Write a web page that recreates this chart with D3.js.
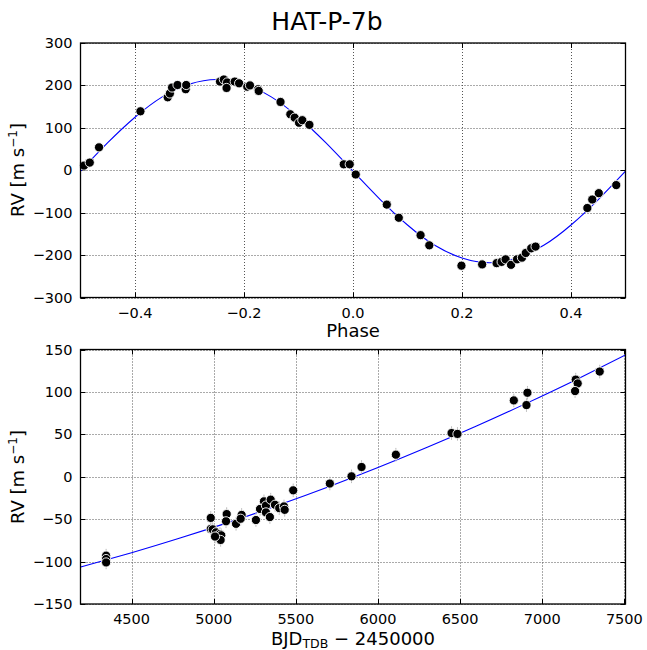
<!DOCTYPE html>
<html><head><meta charset="utf-8">
<script src="https://cdn.jsdelivr.net/npm/d3@7"></script>
<style>body{margin:0;background:#fff}svg{display:block}text{font-family:"DejaVu Sans",sans-serif}</style>
</head><body>
<svg id="c" width="647" height="650"></svg>
<script>
// ---- Data: phase-folded RVs (top panel)
const phase = [-0.4935,-0.483,-0.466,-0.390,-0.340,-0.336,-0.332,-0.322,-0.307,-0.306,-0.244,-0.237,-0.231,-0.232,-0.217,-0.209,-0.194,-0.189,-0.174,-0.173,-0.133,-0.115,-0.107,-0.099,-0.093,-0.080,-0.017,-0.006,0.005,0.062,0.084,0.124,0.140,0.199,0.237,0.2635,0.2727,0.280,0.290,0.301,0.310,0.317,0.327,0.335,0.430,0.439,0.451,0.483];
const rvPhase = [11,18,54,139,172,181,195,201,191,201,209,214,207,194,209,205,197,200,191,187,161,132,124,112,118,107,14,14,-10,-81,-112,-153,-177,-225,-222,-219,-216,-210,-223,-210,-206,-195,-184,-180,-89,-69,-54,-35];
// orbit model
const modelPhase = [-0.50,-0.45,-0.40,-0.35,-0.30,-0.25,-0.20,-0.15,-0.10,-0.05,0.00,0.05,0.10,0.15,0.20,0.25,0.30,0.35,0.40,0.45,0.50];
const modelPhaseRV = [-2,65,125,173,203,214,203,173,125,65,-2,-69,-129,-177,-207,-218,-207,-177,-129,-69,-2];

// ---- Data: residual RVs vs time (bottom panel)
const bjd = [4345,4345,4345,4982,4982,4994,5014,5038,5046,5042,5008,5079,5075,5136,5170,5164,5257,5282,5306,5318,5318,5347,5342,5373,5399,5428,5432,5484,5707,5839,5900,6109,6448,6484,6827,6910,6904,7204,7216,7200,7350];
const rvTime = [-93,-97,-101,-48.5,-61.5,-62,-65.5,-67.5,-69,-74.5,-70.5,-44,-52.5,-55.5,-45,-49.5,-51,-38,-29,-34,-42,-27,-47.5,-33,-37,-35,-39,-16,-8,0.5,11.5,26,51.5,50.5,90,99,84.5,114.5,110,101,124];
const rvErr = [8,8,8,8,8,8,8,8,8,8,8,8,8,8,8,8,8,8,8,8,8,8,8,8,8,8,8,8,8,8,8,8,8,8,8,8,8,8,8,8,8];
const trendT = [4190,4500,4800,5100,5400,5700,6000,6300,6600,6900,7200,7510];
const trendRV = [-106.4,-89.6,-72.0,-53.2,-33.1,-11.8,10.8,34.7,59.8,86.2,113.8,143.8];

// ---- Ticks
const phaseTicks = [-0.4,-0.2,0.0,0.2,0.4];
const rvTicksTop = [-300,-200,-100,0,100,200,300];
const timeTicks = [4500,5000,5500,6000,6500,7000,7500];
const rvTicksBot = [-150,-100,-50,0,50,100,150];

const svg = d3.select("#c");
const L = 80.5, R = 625.5;
const fmtMinus = s => s.replace("-", "\u2212");

function panel(x, y, xt, yt, xfmt, yfmt) {
  const g = svg.append("g");
  const [y0, y1] = y.range();
  // grid
  g.selectAll(".gx").data(xt).join("line")
    .attr("x1", d => Math.round(x(d)) + 0.5).attr("x2", d => Math.round(x(d)) + 0.5)
    .attr("y1", y1).attr("y2", y0)
    .attr("stroke", "#555").attr("stroke-width", 1).attr("stroke-dasharray", "1,2");
  g.selectAll(".gy").data(yt).join("line")
    .attr("y1", d => Math.round(y(d)) + 0.5).attr("y2", d => Math.round(y(d)) + 0.5)
    .attr("x1", L).attr("x2", R)
    .attr("stroke", "#555").attr("stroke-width", 1).attr("stroke-dasharray", "1,2");
  // inward ticks all sides
  const tl = 5;
  g.selectAll(".tb").data(xt).join("line")
    .attr("x1", d => Math.round(x(d)) + 0.5).attr("x2", d => Math.round(x(d)) + 0.5)
    .attr("y1", y0).attr("y2", y0 - tl).attr("stroke", "#000");
  g.selectAll(".tt").data(xt).join("line")
    .attr("x1", d => Math.round(x(d)) + 0.5).attr("x2", d => Math.round(x(d)) + 0.5)
    .attr("y1", y1).attr("y2", y1 + tl).attr("stroke", "#000");
  g.selectAll(".tlf").data(yt).join("line")
    .attr("y1", d => Math.round(y(d)) + 0.5).attr("y2", d => Math.round(y(d)) + 0.5)
    .attr("x1", L).attr("x2", L + tl).attr("stroke", "#000");
  g.selectAll(".trt").data(yt).join("line")
    .attr("y1", d => Math.round(y(d)) + 0.5).attr("y2", d => Math.round(y(d)) + 0.5)
    .attr("x1", R).attr("x2", R - tl).attr("stroke", "#000");
  // tick labels
  g.selectAll(".xl").data(xt).join("text")
    .attr("x", d => x(d)).attr("y", y0 + 20)
    .attr("text-anchor", "middle").attr("font-size", 14.5)
    .text(d => fmtMinus(xfmt(d)));
  g.selectAll(".yl").data(yt).join("text")
    .attr("x", L - 8).attr("y", d => y(d) + 5)
    .attr("text-anchor", "end").attr("font-size", 14.5)
    .text(d => fmtMinus(yfmt(d)));
  return g;
}
function frame(y) {
  const [y0, y1] = y.range();
  svg.append("rect").attr("x", L).attr("y", y1).attr("width", R - L).attr("height", y0 - y1)
    .attr("fill", "none").attr("stroke", "#000").attr("stroke-width", 1.3);
}

// ---- Top panel
const x1 = d3.scaleLinear().domain([-0.5, 0.5]).range([L, R]);
const y1 = d3.scaleLinear().domain([-300, 300]).range([297.5, 43]);
panel(x1, y1, phaseTicks, rvTicksTop, d3.format(".1f"), d3.format("d"));
const clip1 = svg.append("clipPath").attr("id", "cl1").append("rect")
  .attr("x", L).attr("y", 43).attr("width", R - L).attr("height", 297.5 - 43);
svg.append("path")
  .datum(modelPhase.map((p, i) => [p, modelPhaseRV[i]]))
  .attr("clip-path", "url(#cl1)")
  .attr("d", d3.line().x(d => x1(d[0])).y(d => y1(d[1])).curve(d3.curveNatural))
  .attr("fill", "none").attr("stroke", "#0000ff").attr("stroke-width", 1.1);
svg.append("g").selectAll("circle").data(phase.map((p, i) => [p, rvPhase[i]])).join("circle")
  .attr("cx", d => x1(d[0])).attr("cy", d => y1(d[1])).attr("r", 4.6)
  .attr("fill", "#000").attr("stroke", "#fff").attr("stroke-width", 0.9);
frame(y1);

// ---- Bottom panel
const x2 = d3.scaleLinear().domain([4189, 7507]).range([L, R]);
const y2 = d3.scaleLinear().domain([-150, 150]).range([604, 349.5]);
panel(x2, y2, timeTicks, rvTicksBot, d3.format("d"), d3.format("d"));
svg.append("clipPath").attr("id", "cl2").append("rect")
  .attr("x", L).attr("y", 349.5).attr("width", R - L).attr("height", 604 - 349.5);
svg.append("path")
  .datum(trendT.map((t, i) => [t, trendRV[i]]))
  .attr("clip-path", "url(#cl2)")
  .attr("d", d3.line().x(d => x2(d[0])).y(d => y2(d[1])).curve(d3.curveNatural))
  .attr("fill", "none").attr("stroke", "#0000ff").attr("stroke-width", 1.1);
const pts2 = bjd.map((t, i) => [t, rvTime[i], rvErr[i]]);
svg.append("g").selectAll("line").data(pts2).join("line")
  .attr("x1", d => x2(d[0])).attr("x2", d => x2(d[0]))
  .attr("y1", d => y2(d[1] - d[2])).attr("y2", d => y2(d[1] + d[2]))
  .attr("stroke", "#bbb").attr("stroke-width", 1);
svg.append("g").selectAll("circle").data(pts2).join("circle")
  .attr("cx", d => x2(d[0])).attr("cy", d => y2(d[1])).attr("r", 4.6)
  .attr("fill", "#000").attr("stroke", "#fff").attr("stroke-width", 0.9);
frame(y2);

// ---- Labels
svg.append("text").attr("x", 327).attr("y", 30).attr("text-anchor", "middle")
  .attr("font-size", 25).text("HAT-P-7b");
svg.append("text").attr("x", 353).attr("y", 337).attr("text-anchor", "middle")
  .attr("font-size", 18).text("Phase");
function rvLabel(cy) {
  const t = svg.append("text").attr("transform", `translate(24,${cy}) rotate(-90)`)
    .attr("text-anchor", "middle").attr("font-size", 18);
  t.append("tspan").text("RV [m s");
  t.append("tspan").attr("font-size", 12).attr("dy", -7).text("\u22121");
  t.append("tspan").attr("dy", 7).text("]");
}
rvLabel(170);
rvLabel(477);
const bl = svg.append("text").attr("x", 353).attr("y", 645).attr("text-anchor", "middle").attr("font-size", 18);
bl.append("tspan").text("BJD");
bl.append("tspan").attr("font-size", 12.5).attr("dy", 3).text("TDB");
bl.append("tspan").attr("dy", -3).text(" \u2212 2450000");
</script>
</body></html>
